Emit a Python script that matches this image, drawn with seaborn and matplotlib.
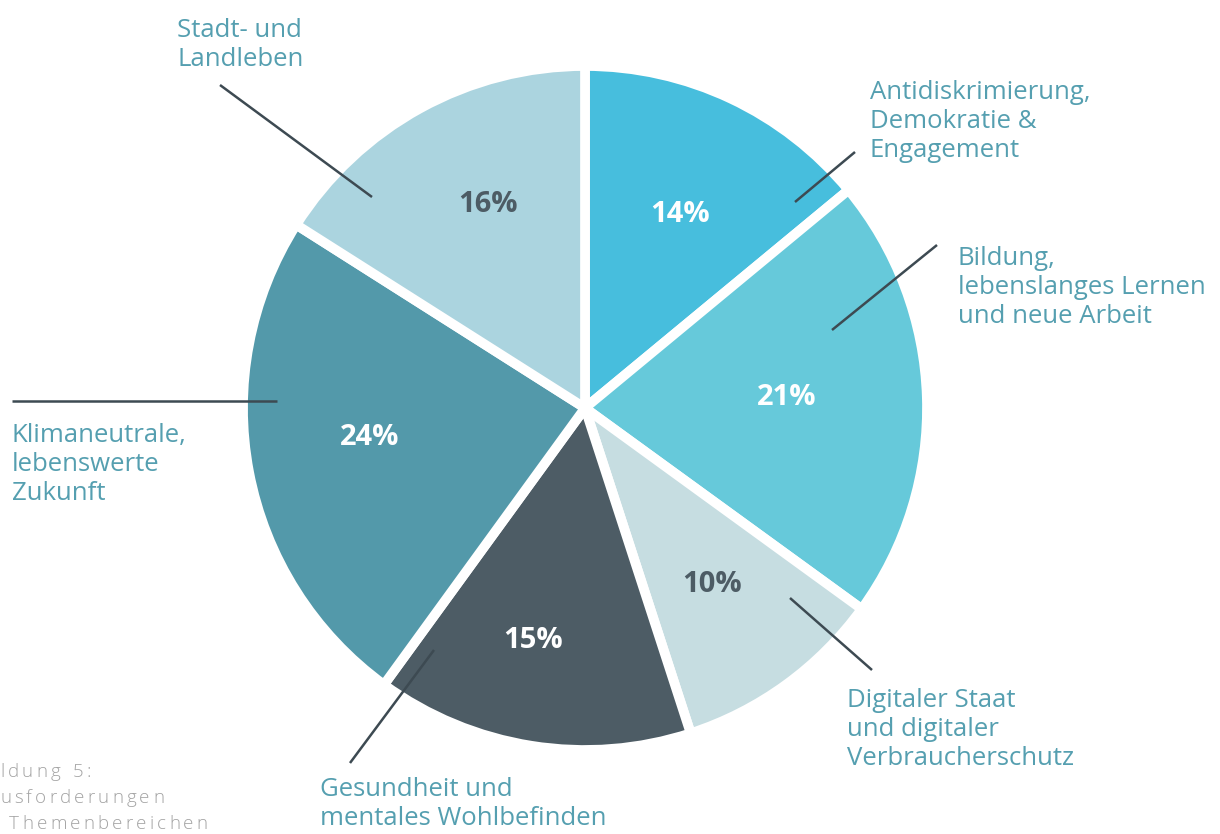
import matplotlib
matplotlib.use("Agg")
import matplotlib.pyplot as plt
import seaborn as sns

sns.set_theme(style="white")
plt.rcParams['font.family'] = ['Open Sans', 'DejaVu Sans']

categories = [
    "Antidiskrimierung,\nDemokratie &\nEngagement",
    "Bildung,\nlebenslanges Lernen\nund neue Arbeit",
    "Digitaler Staat\nund digitaler\nVerbraucherschutz",
    "Gesundheit und\nmentales Wohlbefinden",
    "Klimaneutrale,\nlebenswerte\nZukunft",
    "Stadt- und\nLandleben",
]
shares = [14, 21, 10, 15, 24, 16]
colors = ["#47BEDD", "#66C9DA", "#C6DDE1", "#4D5C65", "#5399AA", "#ABD4DF"]
pct_colors = ["white", "white", "#4D5C65", "white", "white", "#4D5C65"]
caption = ["ldung 5:", "usforderungen", " Themenbereichen"]

W, H = 1220, 834
fig = plt.figure(figsize=(W / 100, H / 100), dpi=100)
ax = fig.add_axes([0, 0, 1, 1])

def Y(y):
    return H - y

cx, cy, r = 585, 408, 342
wedges, texts, autotexts = ax.pie(
    shares, colors=colors, startangle=90, counterclock=False,
    center=(cx, Y(cy)), radius=r, autopct="%d%%", pctdistance=0.64,
    wedgeprops=dict(edgecolor="white", linewidth=7),
    textprops=dict(fontsize=21, fontweight="bold"), frame=True,
)
ax.set_xlim(0, W)
ax.set_ylim(0, H)
ax.axis("off")
# percentage label placement (pixel positions of label centres)
pct_pos = [(680, 214), (787, 397), (712, 585), (533, 640), (370, 437), (488, 204)]
for t, c, (px, py) in zip(autotexts, pct_colors, pct_pos):
    t.set_color(c)
    t.set_position((px, Y(py)))

label_color = "#559fb0"
line_color = "#3d4a52"
label_pos = [(870, 80), (958, 246), (847, 688), (320, 777), (12, 423), (177, 18)]
leaders = [
    ((855, 152), (795, 202)),
    ((937, 245), (832, 330)),
    ((872, 670), (790, 598)),
    ((350, 763), (434, 650)),
    ((12, 401), (277, 401)),
    ((220, 85), (372, 197)),
]
for cat, (lx, ly), (p0, p1) in zip(categories, label_pos, leaders):
    ax.text(lx, Y(ly), cat, ha="left", va="top", fontsize=18.5,
            color=label_color, linespacing=1.22)
    ax.plot([p0[0], p1[0]], [Y(p0[1]), Y(p1[1])], color=line_color, lw=1.8,
            solid_capstyle="butt")

# caption with letter spacing
fig.canvas.draw()
renderer = fig.canvas.get_renderer()
tracking = 3.2
for i, line in enumerate(caption):
    x = 0.0
    y = Y(772 + i * 26)
    for ch in line:
        t = ax.text(x, y, ch, ha="left", va="center", fontsize=13.5,
                    color="#a3a3a3", fontweight="light")
        if ch == " ":
            x += 6 + tracking
        else:
            bb = t.get_window_extent(renderer=renderer)
            x += bb.width + tracking

fig.savefig("out.png", dpi=100)
